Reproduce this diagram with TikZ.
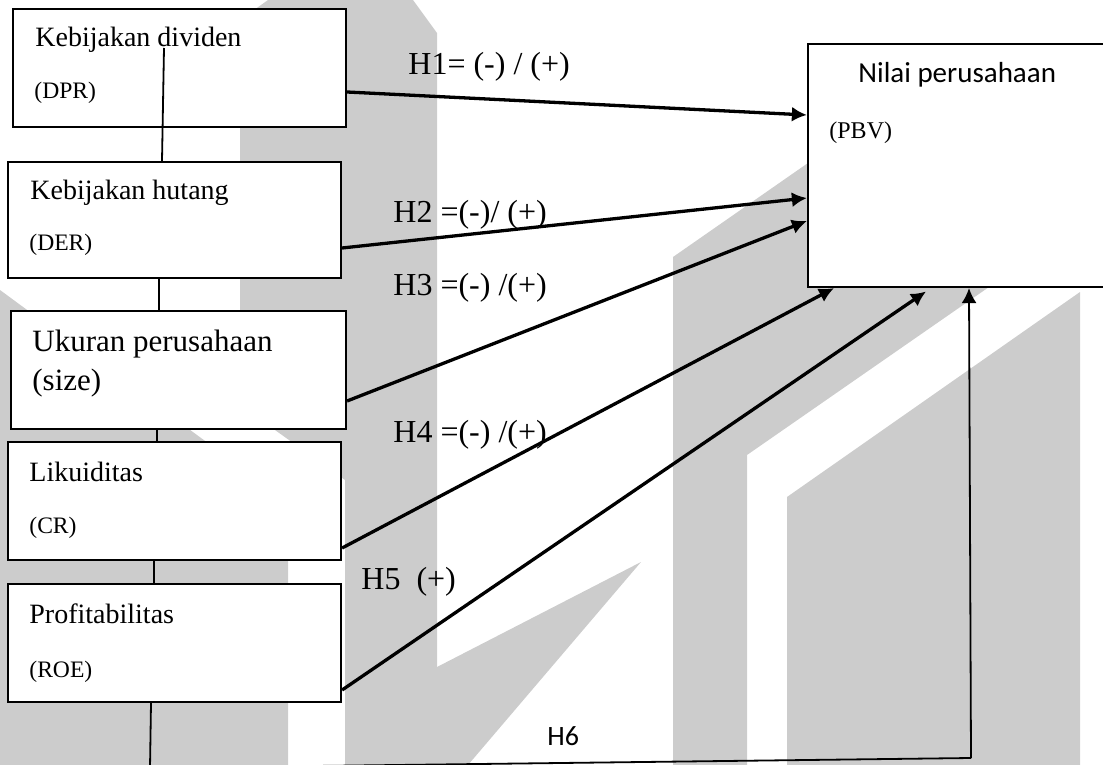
\documentclass[tikz,border=0pt]{standalone}
\usepackage{fontspec}
\setmainfont{Liberation Serif}
\newfontfamily\calibri{Carlito}
\usetikzlibrary{arrows.meta}
\definecolor{markgrey}{HTML}{CCCCCC}

\begin{document}
\begin{tikzpicture}[x=0.5pt, y=-0.5pt,
    varbox/.style={draw, fill=white, line width=1.1pt, inner sep=0pt},
    vartext/.style={anchor=base west, inner sep=0pt, font=\fontsize{14}{16}\selectfont},
    unittext/.style={anchor=base west, inner sep=0pt, font=\fontsize{11.8}{13}\selectfont},
    hyplabel/.style={anchor=base west, inner sep=0pt, font=\fontsize{16}{18}\selectfont},
    effect/.style={-{Latex[length=7.5pt,width=7.5pt]}, line width=1.65pt},
    link/.style={line width=0.9pt}]

    \useasboundingbox (0,0) rectangle (1103,765);

    % Watermark in the background
    \fill[markgrey] (268,0) -- (413,0) -- (437,33) -- (437,765) -- (345,765)
        -- (345,480) -- (240,405) -- (240,20) -- cycle;
    \fill[markgrey] (0,290) -- (288,502) -- (288,765) -- (0,765) -- cycle;
    \fill[markgrey] (437,667) -- (641,562) -- (468,765) -- (437,765) -- cycle;
    \fill[markgrey] (673,765) -- (673,257) -- (808,163) -- (900,163)
        -- (989,287) -- (747,455) -- (747,765) -- cycle;
    \fill[markgrey] (787,765) -- (787,497) -- (1080,292) -- (1080,765) -- cycle;

    % Independent variables
    \node[varbox, minimum width=166.5pt, minimum height=59pt] (dpr) at (179.5,68) {};
    \node[varbox, minimum width=166.5pt, minimum height=58pt] (der) at (174.5,220) {};
    \node[varbox, minimum width=167.5pt, minimum height=59pt] (size) at (178.5,370) {};
    \node[varbox, minimum width=166.5pt, minimum height=59pt] (lik) at (174.5,501) {};
    \node[varbox, minimum width=166.5pt, minimum height=59pt] (roe) at (174.5,643) {};

    \node[vartext] (dprname) at (35,47) {Kebijakan dividen};
    \node[unittext] (dprunit) at (34,98) {(DPR)};
    \node[vartext] (dername) at (30,199) {Kebijakan hutang};
    \node[unittext] (derunit) at (29,250) {(DER)};
    \node[vartext, font=\fontsize{15.5}{17}\selectfont] (sizename) at (32,351) {Ukuran perusahaan};
    \node[vartext, font=\fontsize{15.5}{17}\selectfont] (sizeunit) at (32,390) {(size)};
    \node[vartext] (likname) at (29,481) {Likuiditas};
    \node[unittext] (likunit) at (29,533) {(CR)};
    \node[vartext] (roename) at (29,623) {Profitabilitas};
    \node[unittext] (roeunit) at (29,677) {(ROE)};

    % Dependent variable
    \node[varbox, minimum width=152pt, minimum height=121.5pt] (pbv) at (960,165.5) {};
    \node[anchor=base west, inner sep=0pt, font=\calibri\fontsize{14.5}{17}\selectfont]
        (pbvname) at (858,83) {Nilai perusahaan};
    \node[unittext, font=\fontsize{12}{14}\selectfont] (pbvunit) at (829,139) {(PBV)};

    % Hypotheses
    \draw[effect] (dpr.east |- 0,92) -- (pbv.west |- 0,115);
    \draw[effect] (der.east |- 0,248) -- (pbv.west |- 0,198);
    \draw[effect] (size.east |- 0,401) -- (pbv.west |- 0,221);
    \draw[effect] (lik.east |- 0,548) -- (pbv.south -| 834,0);
    \draw[effect, shorten >=3pt] (roe.east |- 0,690) -- (pbv.south -| 931,0);

    \node[hyplabel] (hone) at (408,75) {H1= (-) / (+)};
    \node[hyplabel] (htwo) at (393,222) {H2 =(-)/ (+)};
    \node[hyplabel] (hthree) at (393,295) {H3 =(-) /(+)};
    \node[hyplabel] (hfour) at (393,442) {H4 =(-) /(+)};
    \node[hyplabel] (hfive) at (361,589) {H5~~(+)};

    % Joint effect
    \coordinate (spinetop) at (164,48);
    \coordinate (corner) at (150,768);
    \coordinate (turn) at (971,758);
    \draw[link] (spinetop) -- (der.north -| 162,0);
    \draw[link] (der.south -| 159,0) -- (size.north -| 159,0);
    \draw[link] (size.south -| 157,0) -- (lik.north -| 157,0);
    \draw[link] (lik.south -| 154,0) -- (roe.north -| 154,0);
    \draw[link] (roe.south -| 151,0) -- (corner) -- (turn);
    \draw[link, -{Latex[length=7.5pt,width=7.5pt]}] (turn) -- (pbv.south -| 969,0);
    \node[anchor=base west, inner sep=0pt, font=\calibri\fontsize{14}{16}\selectfont]
        (hsix) at (547,745) {H6};

\end{tikzpicture}
\end{document}
